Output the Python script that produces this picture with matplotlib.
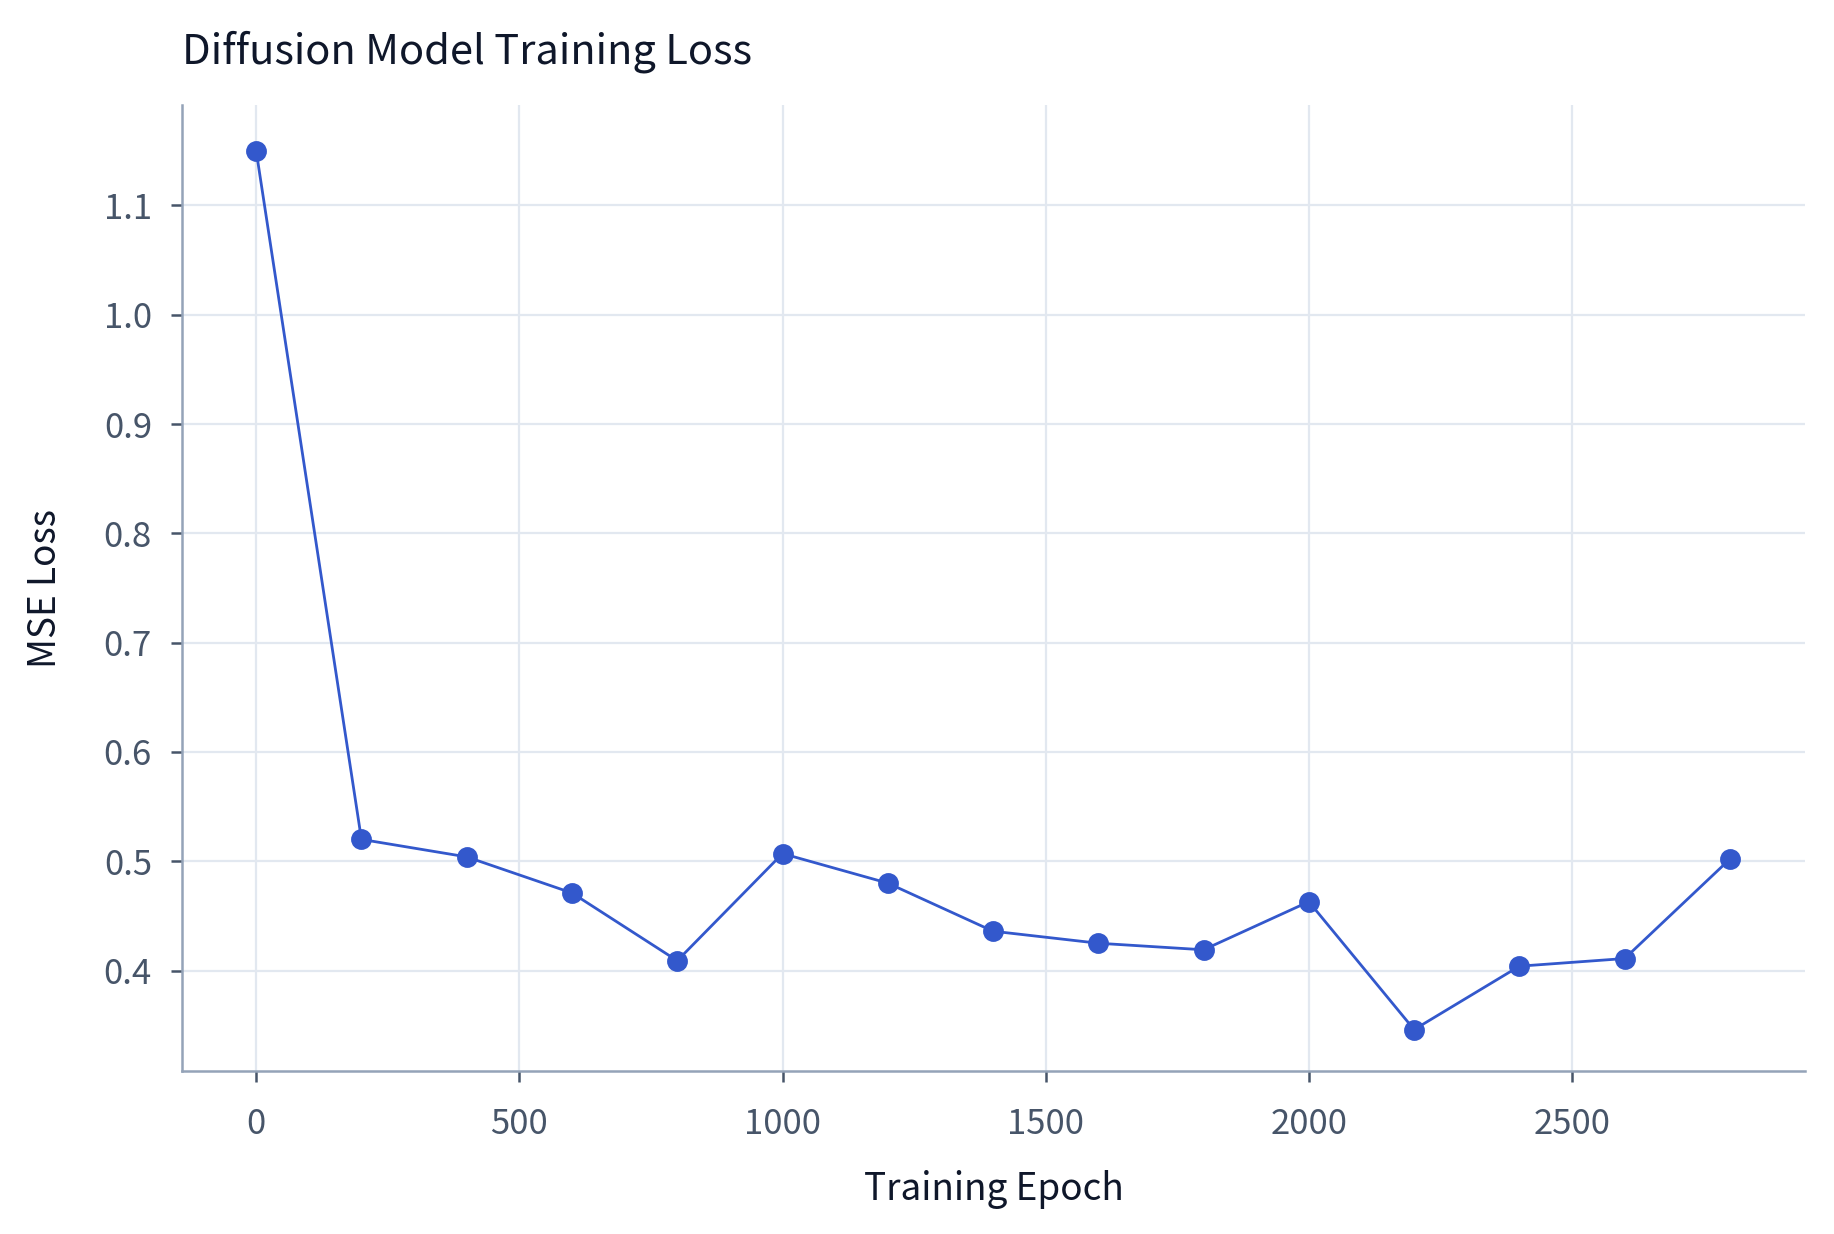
import matplotlib as mpl
mpl.use('Agg')
import matplotlib.pyplot as plt

plt.rcParams['font.family'] = ['Noto Sans CJK KR', 'DejaVu Sans']

epochs = [0, 200, 400, 600, 800, 1000, 1200, 1400, 1600, 1800, 2000, 2200, 2400, 2600, 2800]
loss = [1.150, 0.520, 0.504, 0.471, 0.409, 0.507, 0.480, 0.436, 0.425, 0.419, 0.463, 0.346, 0.404, 0.411, 0.502]
x_ticks = [0, 500, 1000, 1500, 2000, 2500]
y_ticks = [0.4, 0.5, 0.6, 0.7, 0.8, 0.9, 1.0, 1.1]

line_color = "#3358cc"
grid_color = "#e2e8f0"
spine_color = "#94a3b8"
tick_text = "#475569"
dark_text = "#0f172a"

fig = plt.figure(figsize=(9.17, 6.17), dpi=200)
ax = fig.add_axes([0.0995, 0.132, 0.8845, 0.783])

ax.plot(epochs, loss, color=line_color, linewidth=1.0, marker='o', markersize=6.5, zorder=3)

ax.set_xlim(-140, 2942)
ax.set_ylim(0.308, 1.192)
ax.set_xticks(x_ticks)
ax.set_yticks(y_ticks)
ax.set_yticklabels(["{:.1f}".format(v) for v in y_ticks])

ax.grid(True, color=grid_color, linewidth=0.8)
ax.set_axisbelow(True)
for side in ['top', 'right']:
    ax.spines[side].set_visible(False)
for side in ['left', 'bottom']:
    ax.spines[side].set_color(spine_color)
    ax.spines[side].set_linewidth(0.9)

ax.tick_params(axis='both', colors="#475569", labelcolor=tick_text, labelsize=12.5, length=4, width=0.9)
ax.tick_params(axis='x', pad=9)
ax.tick_params(axis='y', pad=7)

ax.set_xlabel("Training Epoch", fontsize=13.3, color=dark_text, labelpad=10)
ax.set_ylabel("MSE Loss", fontsize=13.3, color=dark_text, labelpad=14)
ax.set_title("Diffusion Model Training Loss", loc='left', fontsize=15, color=dark_text, pad=15)

plt.savefig("out.png", dpi=200)
